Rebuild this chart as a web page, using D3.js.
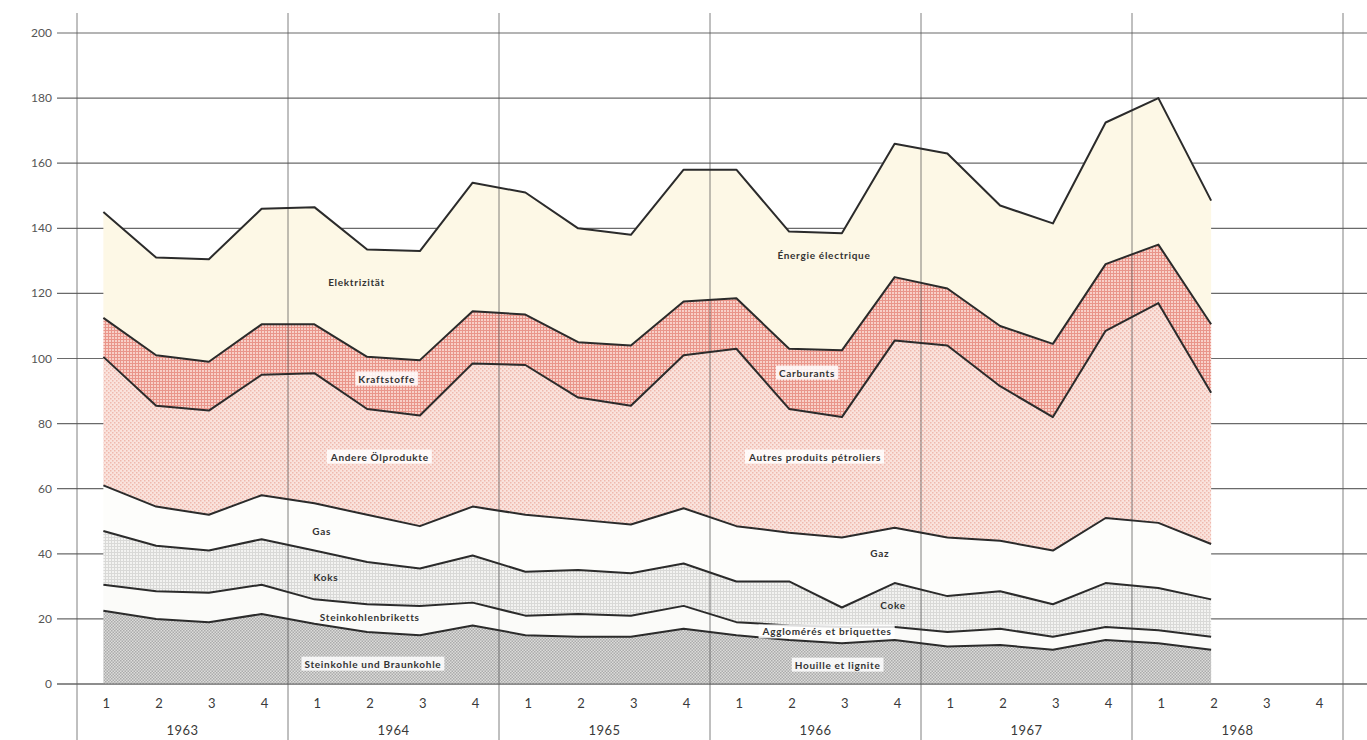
<!DOCTYPE html>
<html>
<head>
<meta charset="utf-8">
<script src="https://cdn.jsdelivr.net/npm/d3@7"></script>
<style>
  body { margin: 0; background: #fff; }
  svg { display: block; font-family: Lato, "DejaVu Sans", sans-serif; }
</style>
</head>
<body>
<div id="chart"></div>
<script>
const width = 1367;
const height = 740;

// quarters 1963 Q1 .. 1968 Q4 (data stops at 1968 Q2)
const years = [1963, 1964, 1965, 1966, 1967, 1968];
const quarterLabels = ["1", "2", "3", "4"];
const yTicks = [0, 20, 40, 60, 80, 100, 120, 140, 160, 180, 200];

// series values (thickness of each layer), bottom to top
const steinkohle = [22.5,20,19,21.5, 18.5,16,15,18, 15,14.5,14.5,17, 15,13.5,12.5,13.5, 11.5,12,10.5,13.5, 12.5,10.5];
const briketts   = [8,8.5,9,9, 7.5,8.5,9,7, 6,7,6.5,7, 4,4.5,5,4, 4.5,5,4,4, 4,4];
const koks       = [16.5,14,13,14, 15,13,11.5,14.5, 13.5,13.5,13,13, 12.5,13.5,6,13.5, 11,11.5,10,13.5, 13,11.5];
const gas        = [14,12,11,13.5, 14.5,14.5,13,15, 17.5,15.5,15,17, 17,15,21.5,17, 18,15.5,16.5,20, 20,17];
const andereOel  = [39.5,31,32,37, 40,32.5,34,44, 46,37.5,36.5,47, 54.5,38,37,57.5, 59,47.5,41,57.5, 67.5,46.5];
const kraftstoff = [12,15.5,15,15.5, 15,16,17,16, 15.5,17,18.5,16.5, 15.5,18.5,20.5,19.5, 17.5,18.5,22.5,20.5, 18,21];
const elektrizitaet = [32.5,30,31.5,35.5, 36,33,33.5,39.5, 37.5,35,34,40.5, 39.5,36,36,41, 41.5,37,37,43.5, 45,38];

const seriesKeys = ["steinkohle", "briketts", "koks", "gas", "andereOel", "kraftstoff", "elektrizitaet"];
const seriesValues = { steinkohle, briketts, koks, gas, andereOel, kraftstoff, elektrizitaet };

// layer labels (German / French), placed by quarter index and value
const labels = [
  { text: "Elektrizität", i: 4.8, v: 123.2 },
  { text: "Énergie électrique", i: 13.66, v: 131.5 },
  { text: "Kraftstoffe", i: 5.37, v: 93.7, box: true },
  { text: "Carburants", i: 13.34, v: 95.5, box: true },
  { text: "Andere Ölprodukte", i: 5.24, v: 69.7, box: true },
  { text: "Autres produits pétroliers", i: 13.49, v: 69.7, box: true },
  { text: "Gas", i: 4.14, v: 46.7 },
  { text: "Gaz", i: 14.72, v: 40.2 },
  { text: "Koks", i: 4.22, v: 32.6 },
  { text: "Coke", i: 14.97, v: 24 },
  { text: "Steinkohlenbriketts", i: 5.05, v: 20.3 },
  { text: "Agglomérés et briquettes", i: 13.72, v: 16, box: true },
  { text: "Steinkohle und Braunkohle", i: 5.11, v: 6.1, box: true },
  { text: "Houille et lignite", i: 13.92, v: 5.8, box: true }
];

const quarters = [];
years.forEach(y => quarterLabels.forEach(q => quarters.push(y + "Q" + q)));

const data = steinkohle.map((_, i) => {
  const row = { key: quarters[i] };
  seriesKeys.forEach(k => row[k] = seriesValues[k][i]);
  return row;
});

const x = d3.scaleBand().domain(quarters).range([77, 1343]);
const xi = i => x(quarters[0]) + x.bandwidth() / 2 + i * x.bandwidth();
const y = d3.scaleLinear().domain([0, 200]).range([684, 33]);

const svg = d3.select("#chart").append("svg")
  .attr("width", width)
  .attr("height", height);

// patterns
const defs = svg.append("defs");

function gridPattern(id, bg, line, size) {
  const p = defs.append("pattern").attr("id", id)
    .attr("patternUnits", "userSpaceOnUse").attr("width", size).attr("height", size);
  p.append("rect").attr("width", size).attr("height", size).attr("fill", bg);
  p.append("path").attr("d", `M0,0.5H${size}M0.5,0V${size}`)
    .attr("stroke", line).attr("stroke-width", 1);
}
function dotPattern(id, bg, dot, size) {
  const p = defs.append("pattern").attr("id", id)
    .attr("patternUnits", "userSpaceOnUse").attr("width", size).attr("height", size);
  p.append("rect").attr("width", size).attr("height", size).attr("fill", bg);
  p.append("rect").attr("width", 1.5).attr("height", 1.5).attr("fill", dot);
  p.append("rect").attr("x", size / 2).attr("y", size / 2).attr("width", 1.5).attr("height", 1.5).attr("fill", dot);
}
gridPattern("pKraft", "#f8d0c8", "#e9958a", 3);
dotPattern("pOel", "#fae3dd", "#efb9ae", 4);
gridPattern("pKoks", "#f3f3f1", "#d9d9d7", 3);
dotPattern("pKohle", "#dcdcda", "#ababab", 3);

const fills = {
  steinkohle: "url(#pKohle)",
  briketts: "#fbfbf9",
  koks: "url(#pKoks)",
  gas: "#fdfdfb",
  andereOel: "url(#pOel)",
  kraftstoff: "url(#pKraft)",
  elektrizitaet: "#fdf8e6"
};

// horizontal grid, behind the layers
svg.append("g")
  .selectAll("line")
  .data(yTicks)
  .join("line")
  .attr("x1", 57).attr("x2", width)
  .attr("y1", d => y(d)).attr("y2", d => y(d))
  .attr("stroke", "#6a6a6a")
  .attr("stroke-width", 1.2);

// y tick labels
svg.append("g")
  .selectAll("text")
  .data(yTicks)
  .join("text")
  .attr("x", 52)
  .attr("y", d => y(d) + 4)
  .attr("text-anchor", "end")
  .attr("fill", "#555")
  .style("font-size", "12px")
  .text(d => d);

const stack = d3.stack().keys(seriesKeys);
const layers = stack(data);

const area = d3.area()
  .x(d => x(d.data.key) + x.bandwidth() / 2)
  .y0(d => y(d[0]))
  .y1(d => y(d[1]));

svg.append("g")
  .selectAll("path")
  .data(layers)
  .join("path")
  .attr("d", area)
  .attr("fill", d => fills[d.key]);

// vertical year separators
const yearBounds = years.map(yr => x(yr + "Q1")).concat([x(years[years.length - 1] + "Q4") + x.bandwidth()]);
svg.append("g")
  .selectAll("line")
  .data(yearBounds)
  .join("line")
  .attr("x1", d => d).attr("x2", d => d)
  .attr("y1", 13).attr("y2", height)
  .attr("stroke", "#555")
  .attr("stroke-opacity", 0.75)
  .attr("stroke-width", 1);

// layer boundary lines
const line = d3.line()
  .x(d => x(d.data.key) + x.bandwidth() / 2)
  .y(d => y(d[1]));

svg.append("g")
  .selectAll("path")
  .data(layers)
  .join("path")
  .attr("d", line)
  .attr("fill", "none")
  .attr("stroke", "#2b2b2b")
  .attr("stroke-width", 2)
  .attr("stroke-linejoin", "round");

// baseline
svg.append("line")
  .attr("x1", 57).attr("x2", width)
  .attr("y1", y(0)).attr("y2", y(0))
  .attr("stroke", "#666").attr("stroke-width", 1.2);

// layer labels
const lab = svg.append("g");
labels.forEach(l => {
  const g = lab.append("g");
  const t = g.append("text")
    .attr("x", xi(l.i))
    .attr("y", y(l.v) + 3.5)
    .attr("text-anchor", "middle")
    .attr("fill", "#333")
    .style("font-size", "10px")
    .style("font-weight", "bold")
    .style("letter-spacing", "0.7px")
    .text(l.text);
  if (l.box) {
    const b = t.node().getBBox();
    g.insert("rect", "text")
      .attr("x", b.x - 3).attr("y", b.y - 1)
      .attr("width", b.width + 6).attr("height", b.height + 2)
      .attr("fill", "#fff").attr("fill-opacity", 0.85);
  }
});

// quarter labels
svg.append("g")
  .selectAll("text")
  .data(quarters)
  .join("text")
  .attr("x", d => x(d) + x.bandwidth() / 2 + 3)
  .attr("y", 708)
  .attr("text-anchor", "middle")
  .attr("fill", "#3a3a3a")
  .style("font-size", "13px")
  .text(d => d.slice(-1));

// year labels
svg.append("g")
  .selectAll("text")
  .data(years)
  .join("text")
  .attr("x", d => x(d + "Q1") + 2 * x.bandwidth())
  .attr("y", 735)
  .attr("text-anchor", "middle")
  .attr("fill", "#3a3a3a")
  .style("font-size", "13px")
  .style("letter-spacing", "0.5px")
  .text(d => d);
</script>
</body>
</html>
